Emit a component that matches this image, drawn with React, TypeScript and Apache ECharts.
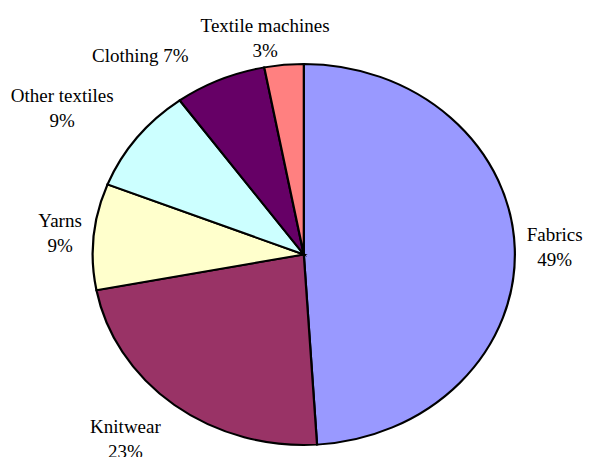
import React, { useEffect, useRef } from "react";
import * as echarts from "echarts";

const categories = ["Fabrics", "Knitwear", "Yarns", "Other textiles", "Clothing", "Textile machines"];
const values = [49, 23, 9, 9, 7, 3];
const colors = ["#9999FF", "#993366", "#FFFFCC", "#CCFFFF", "#660066", "#FF8080"];
const labelJoiners = ["\n", "\n", "\n", "\n", " ", "\n"];
// small manual label nudges (px) to mimic the original label placement
const labelNudgeX = [0, -7, 0, -14, 0, -8];
const labelNudgeY = [0, 5, 0, -3, -6, 5];

const W = 591;
const H = 457;
const CX = 303.8;
const CY = 254.5;
const RX = 211;
const RY = 190.5;
const FONT_SIZE = 19;
const LINE_H = 25;
const FONT_FAMILY = "Liberation Serif";

const clamp = (v: number) => Math.max(-1, Math.min(1, v));

function computeLayout() {
  const total = values.reduce((a, b) => a + b, 0);
  const canvas = document.createElement("canvas");
  const ctx = canvas.getContext("2d")!;
  ctx.font = `${FONT_SIZE}px '${FONT_FAMILY}'`;
  let acc = 0;
  const slices = values.map((v, i) => {
    const t0 = (acc / total) * Math.PI * 2;
    acc += v;
    const t1 = (acc / total) * Math.PI * 2;
    const mid = (t0 + t1) / 2;
    const pct = Math.round((v / total) * 100);
    const text = `${categories[i]}${labelJoiners[i]}${pct}%`;
    const lines = text.split("\n");
    const w = Math.max(...lines.map((l) => ctx.measureText(l).width));
    const h = lines.length * LINE_H - 11;
    const s = Math.sin(mid);
    const c = -Math.cos(mid);
    const d = 12;
    const px = CX + RX * s + d * s;
    const py = CY + RY * c + d * c;
    const lx = px + (w / 2) * clamp(1.6 * s) + labelNudgeX[i];
    const ly = py + (h / 2) * clamp(1.6 * c) + labelNudgeY[i];
    return { t0, t1, mid, text, w, h, lx, ly, s };
  });
  const placed: { l: number; r: number; t: number; b: number }[] = [];
  const PAD = 4;
  const GAP = 12;
  for (let i = slices.length - 1; i >= 0; i--) {
    const sl = slices[i];
    let moved = true;
    let guard = 0;
    while (moved && guard < 10) {
      moved = false;
      guard++;
      const box = { l: sl.lx - sl.w / 2, r: sl.lx + sl.w / 2, t: sl.ly - sl.h / 2, b: sl.ly + sl.h / 2 };
      for (const o of placed) {
        if (box.l < o.r && box.r > o.l && box.t < o.b + PAD && box.b > o.t - PAD) {
          if (sl.s < 0) sl.lx = o.l - GAP - sl.w / 2;
          else sl.lx = o.r + GAP + sl.w / 2;
          moved = true;
          break;
        }
      }
    }
    placed.push({ l: sl.lx - sl.w / 2, r: sl.lx + sl.w / 2, t: sl.ly - sl.h / 2, b: sl.ly + sl.h / 2 });
  }
  return slices;
}

export default function App() {
  const ref = useRef<HTMLDivElement>(null);
  useEffect(() => {
    if (!ref.current) return;
    const chart = echarts.init(ref.current, null, { renderer: "svg" });
    const layout = computeLayout();
    const data = values.map((v, i) => ({ value: v, name: categories[i] }));
    chart.setOption({
      animation: false,
      backgroundColor: "#ffffff",
      series: [
        {
          type: "custom",
          coordinateSystem: "none",
          data,
          renderItem: (params: any) => {
            const i = params.dataIndex;
            const sl = layout[i];
            return {
              type: "sector",
              x: CX,
              y: CY,
              scaleX: RX / RY,
              scaleY: 1,
              shape: {
                cx: 0,
                cy: 0,
                r0: 0,
                r: RY,
                startAngle: sl.t0 - Math.PI / 2,
                endAngle: sl.t1 - Math.PI / 2,
                clockwise: true,
              },
              style: {
                fill: colors[i],
                stroke: "#000000",
                lineWidth: 2,
                strokeNoScale: true,
              },
            };
          },
        },
        {
          type: "custom",
          coordinateSystem: "none",
          data,
          renderItem: (params: any) => {
            const sl = layout[params.dataIndex];
            return {
              type: "text",
              x: sl.lx,
              y: sl.ly,
              style: {
                text: sl.text,
                fill: "#000000",
                fontSize: FONT_SIZE,
                fontFamily: FONT_FAMILY,
                align: "center",
                verticalAlign: "middle",
                lineHeight: LINE_H,
              },
            };
          },
        },
      ],
    });
    return () => chart.dispose();
  }, []);
  return (
    <div
      ref={ref}
      style={{ position: "fixed", left: 0, top: 0, width: W, height: H, background: "#fff" }}
    />
  );
}
